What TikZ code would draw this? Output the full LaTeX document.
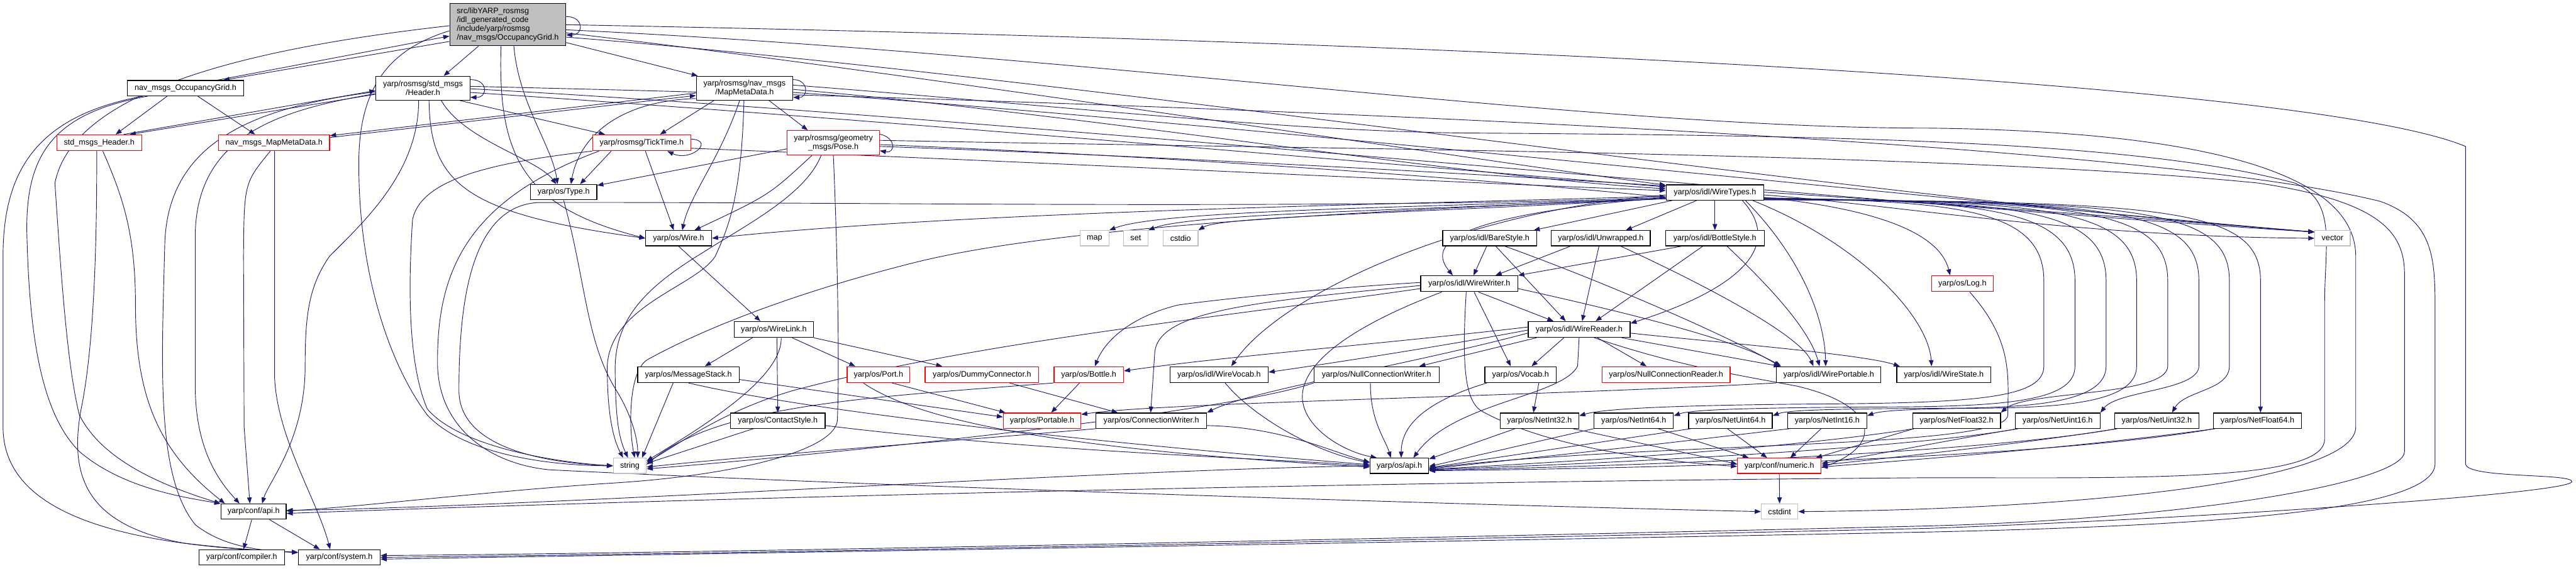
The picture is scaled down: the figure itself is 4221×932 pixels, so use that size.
\documentclass[tikz,border=0pt]{standalone}
\usepackage{fontspec}
\setmainfont{Liberation Sans}
\usetikzlibrary{arrows.meta}
\definecolor{edgec}{HTML}{191970}
\definecolor{grayb}{HTML}{BFBFBF}
\pgfdeclarelayer{bg}
\pgfdeclarelayer{edges}
\pgfsetlayers{bg,edges,main}
\begin{document}
\begin{tikzpicture}[x=1pt,y=-1pt,
  nb/.style={draw=black,line width=1.3pt,fill=white,inner sep=0pt,font=\fontsize{13}{14.5}\selectfont,align=center},
  rb/.style={nb,draw=red},
  gb/.style={nb,draw=grayb},
  e/.style={draw=edgec,line width=0.95pt,-{Triangle[length=10pt,width=7.5pt]}},
  h25/.style={minimum height=25pt},
  h26/.style={minimum height=26pt}]
\useasboundingbox (0,0) rectangle (4221,932);
\begin{pgfonlayer}{bg}\fill[white] (0,0) rectangle (4221,932);\end{pgfonlayer}
% ---------------- nodes
\node[nb,fill=grayb,minimum width=190pt,minimum height=69pt,align=left] (R) at (832,40.5) {src/libYARP\_rosmsg\\/idl\_generated\_code\\/include/yarp/rosmsg\\/nav\_msgs/OccupancyGrid.h};
\node[nb,h25,minimum width=190pt] (NOG) at (304,144.5) {nav\_msgs\_OccupancyGrid.h};
\node[nb,minimum width=154pt,minimum height=39pt] (Hdr) at (693,144.5) {yarp/rosmsg/std\_msgs\\/Header.h};
\node[rb,h26,minimum width=139pt] (StdHdr) at (162.5,234) {std\_msgs\_Header.h};
\node[rb,h26,minimum width=182pt] (NMMD) at (449,234) {nav\_msgs\_MapMetaData.h};
\node[rb,h26,minimum width=161pt] (TT) at (1051.5,234) {yarp/rosmsg/TickTime.h};
\node[nb,h25,minimum width=109pt] (Type) at (923.5,315) {yarp/os/Type.h};
\node[nb,minimum width=158pt,minimum height=39pt] (MMD) at (1220,144.5) {yarp/rosmsg/nav\_msgs\\/MapMetaData.h};
\node[rb,minimum width=151pt,minimum height=40pt] (Pose) at (1365.5,234) {yarp/rosmsg/geometry\\\_msgs/Pose.h};
\node[nb,h25,minimum width=160pt] (WT) at (2810,315.5) {yarp/os/idl/WireTypes.h};
\node[nb,h25,minimum width=108pt] (Wire) at (1112,390.5) {yarp/os/Wire.h};
\node[gb,h25,minimum width=47pt] (map) at (1793.5,390.5) {map};
\node[gb,h25,minimum width=40pt] (set) at (1861,390.5) {set};
\node[gb,h25,minimum width=57pt] (cstdio) at (1934.5,390.5) {cstdio};
\node[nb,h26,minimum width=130pt] (WL) at (1268,540) {yarp/os/WireLink.h};
\node[nb,h26,minimum width=166pt] (MS) at (1128,614) {yarp/os/MessageStack.h};
\node[rb,h26,minimum width=103pt] (Port) at (1439.5,614) {yarp/os/Port.h};
\node[rb,h26,minimum width=186pt] (Dummy) at (1609,614) {yarp/os/DummyConnector.h};
\node[rb,h26,minimum width=114pt] (Bottle) at (1784,614) {yarp/os/Bottle.h};
\node[nb,h26,minimum width=161pt] (WVocab) at (1997.5,614) {yarp/os/idl/WireVocab.h};
\node[nb,h25,minimum width=154pt] (Bare) at (2441,390.5) {yarp/os/idl/BareStyle.h};
\node[nb,h25,minimum width=162pt] (Unw) at (2623,390.5) {yarp/os/idl/Unwrapped.h};
\node[nb,h25,minimum width=162pt] (BStyle) at (2810,390.5) {yarp/os/idl/BottleStyle.h};
\node[nb,h26,minimum width=159pt] (WW) at (2407.5,465) {yarp/os/idl/WireWriter.h};
\node[nb,h26,minimum width=167pt] (WR) at (2587.5,540) {yarp/os/idl/WireReader.h};
\node[nb,h26,minimum width=205pt] (NCW) at (2255.5,614) {yarp/os/NullConnectionWriter.h};
\node[nb,h26,minimum width=117pt] (Vocab) at (2491.5,614) {yarp/os/Vocab.h};
\node[rb,h26,minimum width=210pt] (NCR) at (2730,614) {yarp/os/NullConnectionReader.h};
\node[nb,h26,minimum width=171pt] (WP) at (2996.5,614) {yarp/os/idl/WirePortable.h};
\node[nb,h26,minimum width=154pt] (WS) at (3185,614) {yarp/os/idl/WireState.h};
\node[gb,h25,minimum width=58pt] (vector) at (3822,390.5) {vector};
\node[rb,h26,minimum width=101pt] (Log) at (3215.5,465) {yarp/os/Log.h};
\node[nb,h25,minimum width=107pt] (capi) at (415.5,838.5) {yarp/conf/api.h};
\node[nb,h25,minimum width=140pt] (comp) at (396,913.5) {yarp/conf/compiler.h};
\node[nb,h25,minimum width=134pt] (sys) at (556,913.5) {yarp/conf/system.h};
\node[gb,h25,minimum width=54pt] (string) at (1032,763.5) {string};
\node[nb,h25,minimum width=155pt] (CS) at (1274.5,689.5) {yarp/os/ContactStyle.h};
\node[rb,h25,minimum width=127pt] (Portable) at (1707.5,689.5) {yarp/os/Portable.h};
\node[nb,h25,minimum width=181pt] (CW) at (1886.5,689.5) {yarp/os/ConnectionWriter.h};
\node[nb,h25,minimum width=129pt] (NI32) at (2522.5,689.5) {yarp/os/NetInt32.h};
\node[nb,h25,minimum width=130pt] (NI64) at (2677,689.5) {yarp/os/NetInt64.h};
\node[nb,h25,minimum width=137pt] (NU64) at (2835.5,689.5) {yarp/os/NetUint64.h};
\node[nb,h25,minimum width=130pt] (NI16) at (2994,689.5) {yarp/os/NetInt16.h};
\node[nb,h25,minimum width=144pt] (NF32) at (3206,689.5) {yarp/os/NetFloat32.h};
\node[nb,h25,minimum width=139pt] (NU16) at (3371.5,689.5) {yarp/os/NetUint16.h};
\node[nb,h25,minimum width=138pt] (NU32) at (3534,689.5) {yarp/os/NetUint32.h};
\node[nb,h25,minimum width=144pt] (NF64) at (3699,689.5) {yarp/os/NetFloat64.h};
\node[nb,h25,minimum width=96pt] (osapi) at (2293,763.5) {yarp/os/api.h};
\node[rb,h25,minimum width=137pt] (numeric) at (2915.5,763.5) {yarp/conf/numeric.h};
\node[gb,h25,minimum width=60pt] (cstdint) at (2916,838.5) {cstdint};
% ---------------- edges
\begin{pgfonlayer}{edges}
% root
\draw[e] (R.8) .. controls (957,27) and (957,57) .. (R.-10);
\draw[e] (R.196) -- ([xshift=62pt]NOG.north);
\draw[e] ([xshift=52pt]NOG.north) -- (R.191);
\draw[e] ([xshift=-48pt]R.south) -- ([xshift=34pt]Hdr.north);
\draw[e] (R.-17) -- ([xshift=3pt]MMD.north west);
\draw[e] ([xshift=10pt]R.south) .. controls (850,170) and (905,240) .. ([xshift=-10pt]Type.north);
\draw[e] ([xshift=-11pt]R.south) .. controls (815,260) and (860,340) .. (Wire.west);
\draw[e] (R.186) .. controls (640,80) and (590,140) .. (588,260) .. controls (586,450) and (640,600) .. (700,680) .. controls (760,745) and (900,763) .. (string.west);
\draw[e] (R.181) .. controls (400,80) and (120,150) .. (90,300) .. controls (100,450) and (110,600) .. (130,680) .. controls (170,760) and (280,800) .. (capi.north west);
\draw[e] (R.east) .. controls (2500,70) and (3800,140) .. (4040,240) -- (4040,760) .. controls (4040,785) and (4220,775) .. (4214,790) .. controls (4200,810) and (3600,850) .. (3160,866) .. controls (2000,893) and (1000,910) .. (sys.east);
\draw[e] (R.-5) .. controls (1800,90) and (2600,210) .. (3160,210) .. controls (3600,215) and (3860,280) .. (3860,420) -- (3860,700) .. controls (3860,790) and (3400,835) .. (cstdint.east);
\draw[e] (R.-8) .. controls (1500,120) and (2400,260) .. ([yshift=-1pt]WT.north west);
\draw[e] (R.-12) .. controls (1800,130) and (3000,320) .. ([yshift=-3pt]vector.north west);
% NOG, StdHdr, NMMD
\draw[e] ([xshift=-70pt]NOG.south) .. controls (60,190) and (5,280) .. (5,420) -- (5,700) .. controls (5,860) and (250,895) .. ([yshift=8pt]sys.west);
\draw[e] ([xshift=-62pt]NOG.south) .. controls (90,185) and (42,250) .. (44,380) .. controls (48,560) and (70,680) .. (130,740) .. controls (200,800) and (300,815) .. (capi.north west);
\draw[e] ([xshift=-30pt]NOG.south) -- ([xshift=27pt]StdHdr.north);
\draw[e] ([xshift=20pt]NOG.south) -- ([xshift=-31pt]NMMD.north);
\draw[e] ([xshift=-4pt]StdHdr.south) .. controls (159,450) and (150,580) .. (135,660) .. controls (110,780) and (140,860) .. (300,890) .. controls (380,900) and (450,903) .. ([yshift=8pt]sys.west);
\draw[e] ([xshift=6pt]StdHdr.south) .. controls (200,320) and (222,380) .. (222,500) .. controls (222,650) and (260,740) .. ([xshift=-47pt]capi.north);
\draw[e] ([xshift=40pt]StdHdr.north) -- ([yshift=-4pt]Hdr.west);
\draw[e] ([yshift=-10pt]Hdr.west) -- ([xshift=50pt]StdHdr.north);
\draw[e] ([yshift=-8pt]MMD.west) -- ([yshift=-2pt]NMMD.north east);
\draw[e] ([yshift=-5pt]NMMD.north east) -- ([yshift=-12pt]MMD.west);
\draw[e] ([xshift=-6pt]NMMD.south) .. controls (400,300) .. (399,420) -- (400,700) -- ([xshift=-6pt]capi.north);
\draw[e] ([xshift=1pt]NMMD.south) -- (450,620) .. controls (455,720) and (520,820) .. ([xshift=-15pt]sys.north);
\draw[e] ([xshift=-3pt]capi.south) -- ([xshift=3pt]comp.north);
\draw[e] ([xshift=26pt]capi.south) -- ([xshift=-32pt]sys.north);
% Header
\draw[e] ([yshift=14pt]Hdr.east) .. controls (800,130) and (800,160) .. ([yshift=-15pt]Hdr.east);
\draw[e] ([yshift=-6pt]Hdr.west) .. controls (420,175) and (275,230) .. (270,400) .. controls (265,600) and (255,780) .. (320,860) .. controls (370,900) and (440,903) .. ([yshift=8pt]sys.west);
\draw[e] ([yshift=-9pt]Hdr.west) .. controls (460,180) and (325,220) .. (320,380) -- (320,640) .. controls (322,740) and (360,790) .. ([xshift=-23pt]capi.north);
\draw[e] ([xshift=-7pt]Hdr.south) .. controls (686,280) and (600,360) .. (540,420) .. controls (505,470) and (500,520) .. (500,600) .. controls (500,720) and (440,790) .. ([xshift=14pt]capi.north);
\draw[e] ([xshift=10pt]Hdr.south) .. controls (705,300) and (760,350) .. (Wire.west);
\draw[e] ([xshift=30pt]Hdr.south) .. controls (760,230) and (880,260) .. ([xshift=-12pt]Type.north);
\draw[e] ([xshift=60pt]Hdr.south) -- ([xshift=-60pt]TT.north);
\draw[e] ([yshift=-7pt]Hdr.east) .. controls (1500,200) and (2400,280) .. ([yshift=-4pt]WT.north west);
\draw[e] ([yshift=-1pt]Hdr.east) .. controls (1600,190) and (3000,330) .. ([yshift=-3pt]vector.north west);
\draw[e] ([yshift=3pt]Hdr.east) .. controls (2000,170) and (3500,230) .. (3900,330) .. controls (3985,360) and (3990,420) .. (3990,500) -- (3990,760) .. controls (3990,840) and (3600,862) .. (3160,872) .. controls (2000,895) and (1000,910) .. ([yshift=-3pt]sys.east);
% MapMetaData
\draw[e] ([yshift=14pt]MMD.east) .. controls (1325,130) and (1325,160) .. ([yshift=-15pt]MMD.east);
\draw[e] ([xshift=-50pt]MMD.south) -- ([xshift=30pt]TT.north);
\draw[e] ([xshift=40pt]MMD.south) -- ([xshift=-42pt]Pose.north);
\draw[e] ([xshift=-8pt]MMD.south) .. controls (1180,260) and (1130,320) .. ([xshift=6pt]Wire.north);
\draw[e] ([xshift=-1pt]MMD.south) .. controls (1215,330) and (1190,380) .. (1172,420) .. controls (1140,470) and (1000,500) .. (995,600) .. controls (995,680) and (1005,720) .. ([xshift=-11pt]string.north);
\draw[e] ([yshift=-17pt]MMD.west) .. controls (1020,165) and (950,220) .. ([xshift=12pt]Type.north);
\draw[e] ([yshift=-2pt]MMD.east) .. controls (1800,190) and (2400,290) .. ([yshift=-7pt]WT.north west);
\draw[e] ([yshift=-7pt]MMD.east) .. controls (2000,200) and (3200,330) .. ([yshift=-3pt]vector.north west);
\draw[e] ([yshift=5pt]MMD.east) .. controls (1700,170) and (2100,215) .. (2400,218) .. controls (3000,222) and (3500,230) .. (3760,300) .. controls (3830,330) and (3809,400) .. (3809,500) -- (3809,720) .. controls (3809,790) and (3500,783) .. (3160,783) .. controls (2200,790) and (1200,815) .. ([yshift=-3pt]capi.east);
% TickTime
\draw[e] ([yshift=6pt]TT.east) .. controls (1172,230) and (1132,266) .. ([xshift=42pt]TT.south);
\draw[e] ([xshift=-50pt]TT.south) -- ([xshift=27pt]Type.north);
\draw[e] ([xshift=6pt]TT.south) -- ([xshift=-8pt]Wire.north);
\draw[e] (TT.south west) .. controls (820,265) and (690,290) .. (676,360) .. controls (668,480) and (670,600) .. (700,670) .. controls (750,730) and (900,757) .. (string.west);
\draw[e] ([xshift=-70pt]TT.south) .. controls (760,330) and (715,450) .. (717,600) .. controls (720,700) and (800,760) .. (900,770) .. controls (1500,800) and (2500,830) .. (cstdint.west);
\draw[e] ([yshift=-9pt]TT.east) .. controls (1800,270) and (2400,300) .. ([yshift=-10pt]WT.north west);
% Pose
\draw[e] ([yshift=14pt]Pose.east) .. controls (1468,225) and (1468,252) .. ([yshift=-13pt]Pose.east);
\draw[e] ([yshift=-10pt]Pose.west) -- ([yshift=-2pt]Type.north east);
\draw[e] ([xshift=-35pt]Pose.south) .. controls (1260,320) .. ([xshift=26pt]Wire.north);
\draw[e] ([xshift=-20pt]Pose.south) .. controls (1320,320) and (1220,370) .. (1150,415) .. controls (1060,470) and (1010,520) .. (1008,600) .. controls (1008,690) and (1015,720) .. ([xshift=-3pt]string.north);
\draw[e] (Pose.south) .. controls (1372,400) and (1376,600) .. (1372,690) .. controls (1365,740) and (1200,780) .. (1000,792) .. controls (800,805) and (600,830) .. ([yshift=1pt]capi.east);
\draw[e] ([yshift=-3pt]Pose.east) .. controls (2000,260) and (2500,300) .. ([yshift=-8pt]WT.west);
\draw[e] ([yshift=-6pt]Pose.east) .. controls (2300,270) and (3300,340) .. ([yshift=-3pt]vector.north west);
\draw[e] ([yshift=4pt]Pose.east) .. controls (2200,245) and (3200,250) .. (3700,300) .. controls (3900,330) and (3940,380) .. (3940,450) -- (3940,740) .. controls (3940,790) and (3600,850) .. (3160,862) .. controls (2000,890) and (1000,908) .. ([yshift=3pt]sys.east);
% Type
\draw[e] (Type.south) .. controls (960,460) and (960,560) .. (1010,640) .. controls (1035,680) and (1045,720) .. ([xshift=13pt]string.north);
% WireTypes
\draw[e] ([yshift=-6pt]WT.west) .. controls (2300,335) and (1600,345) .. (Wire.east);
\draw[e] ([yshift=-8pt]WT.west) .. controls (2200,345) and (1300,330) .. (880,332) .. controls (770,340) and (752,500) .. (752,640) .. controls (752,730) and (880,758) .. (string.west);
\draw[e] ([yshift=-10pt]WT.west) .. controls (2100,350) and (1700,380) .. (1500,430) .. controls (1300,480) and (1150,540) .. (1060,590) .. controls (1030,610) and (1030,700) .. ([xshift=8pt]string.north);
\draw[e] ([yshift=-10pt]WT.west) .. controls (2300,340) and (1900,345) .. (map.north east);
\draw[e] ([yshift=-10pt]WT.west) .. controls (2300,345) and (1950,350) .. (set.north east);
\draw[e] ([yshift=-10pt]WT.west) .. controls (2300,350) and (2000,355) .. (cstdio.north east);
\draw[e] ([yshift=-4pt]WT.east) .. controls (3100,335) and (3400,388) .. (vector.west);
\draw[e] ([xshift=-70pt]WT.south) -- ([xshift=72pt]Bare.north);
\draw[e] ([xshift=-30pt]WT.south) -- ([xshift=41pt]Unw.north);
\draw[e] (WT.south) -- (BStyle.north);
\draw[e] ([yshift=-8pt]WT.west) .. controls (2420,350) and (2330,390) .. ([xshift=-27pt]WW.north);
\draw[e] ([xshift=45pt]WT.south) .. controls (2920,400) and (2860,470) .. ([yshift=10pt]WR.east);
\draw[e] ([xshift=50pt]WT.south) .. controls (2950,420) and (2990,520) .. ([xshift=-5pt]WP.north);
\draw[e] ([xshift=62pt]WT.south) .. controls (3050,400) and (3160,520) .. ([xshift=-20pt]WS.north);
\draw[e] ([yshift=-8pt]WT.east) .. controls (3100,345) and (3180,390) .. ([xshift=-20pt]Log.north);
\draw[e] ([yshift=-4pt]WT.west) .. controls (2400,345) and (2100,480) .. ([xshift=20pt]WVocab.north);
% WireTypes -> Net*
\draw[e] ([yshift=-9pt]WT.east) .. controls (3200,330) and (3349,340) .. (3349,460) -- (3349,600) .. controls (3349,650) and (3250,660) .. (3000,662) .. controls (2700,664) and (2620,672) .. ([yshift=8pt]NI32.east);
\draw[e] ([yshift=-9pt]WT.east) .. controls (3250,330) and (3400,340) .. (3400,460) -- (3400,600) .. controls (3400,655) and (3300,666) .. (3100,667) .. controls (2850,668) and (2770,672) .. ([yshift=8pt]NI64.east);
\draw[e] ([yshift=-10pt]WT.east) .. controls (3300,330) and (3451,340) .. (3451,460) -- (3451,600) .. controls (3451,655) and (3350,668) .. (3200,669) .. controls (3000,670) and (2930,672) .. ([yshift=8pt]NU64.east);
\draw[e] ([yshift=-10pt]WT.east) .. controls (3350,330) and (3501,340) .. (3501,460) -- (3501,600) .. controls (3501,655) and (3400,668) .. (3250,669) .. controls (3150,670) and (3085,672) .. ([yshift=8pt]NI16.east);
\draw[e] ([yshift=-11pt]WT.east) .. controls (3400,330) and (3552,340) .. (3552,460) -- (3552,600) .. controls (3552,650) and (3320,640) .. (NF32.north east);
\draw[e] ([yshift=-11pt]WT.east) .. controls (3450,330) and (3603,340) .. (3603,460) -- (3603,600) .. controls (3603,640) and (3470,640) .. (NU16.north east);
\draw[e] ([yshift=-12pt]WT.east) .. controls (3500,330) and (3653,340) .. (3653,460) -- (3653,600) .. controls (3653,640) and (3580,640) .. ([xshift=25pt]NU32.north);
\draw[e] ([yshift=-12pt]WT.east) .. controls (3550,330) and (3704,340) .. (3704,460) -- ([xshift=5pt]NF64.north);
% styles
\draw[e] ([xshift=-5pt]Bare.south) -- ([xshift=7pt]WW.north);
\draw[e] ([xshift=10pt]Bare.south) -- ([xshift=-22pt]WR.north);
\draw[e] ([xshift=25pt]Bare.south) .. controls (2650,470) and (2850,560) .. ([xshift=-80pt]WP.north);
\draw[e] ([xshift=-50pt]Unw.south) -- ([xshift=43pt]WW.north);
\draw[e] ([xshift=-3pt]Unw.south) -- ([xshift=5pt]WR.north);
\draw[e] ([xshift=33pt]Unw.south) .. controls (2800,470) and (2950,550) .. ([xshift=-25pt]WP.north);
\draw[e] ([xshift=-55pt]BStyle.south) -- (WW.north east);
\draw[e] ([xshift=-20pt]BStyle.south) -- ([xshift=27pt]WR.north);
\draw[e] ([xshift=20pt]BStyle.south) .. controls (2900,470) and (2965,540) .. ([xshift=-15pt]WP.north);
% WireWriter
\draw[e] ([xshift=15pt]WW.south) -- ([xshift=-42pt]WR.north);
\draw[e] ([xshift=8pt]WW.south) -- ([xshift=-16pt]Vocab.north);
\draw[e] ([yshift=-8pt]WW.east) .. controls (2700,520) and (2850,560) .. ([xshift=-78pt]WP.north);
\draw[e] ([xshift=-45pt]WW.south) .. controls (2200,540) and (2134,600) .. (2134,650) .. controls (2134,700) and (2200,740) .. ([xshift=-37pt]osapi.north);
\draw[e] ([xshift=-5pt]WW.south) .. controls (2395,600) and (2400,660) .. (2430,675) .. controls (2550,740) and (2750,758) .. ([yshift=-1pt]numeric.west);
\draw[e] ([yshift=2pt]WW.west) .. controls (2200,470) and (2000,490) .. (1930,500) .. controls (1850,520) and (1810,560) .. ([xshift=10pt]Bottle.north);
\draw[e] ([yshift=-3pt]WW.west) .. controls (2050,495) and (1895,510) .. (1892,580) -- ([xshift=-1pt]CW.north);
\draw[e] ([yshift=-8pt]WW.west) .. controls (2000,520) and (1600,560) .. (1300,640) .. controls (1180,675) and (1110,730) .. ([yshift=6pt]string.east);
% WireReader
\draw[e] ([xshift=-70pt]WR.south) -- ([xshift=70pt]NCW.north);
\draw[e] ([xshift=-25pt]WR.south) -- ([xshift=18pt]Vocab.north);
\draw[e] ([xshift=30pt]WR.south) -- ([xshift=-32pt]NCR.north);
\draw[e] ([xshift=70pt]WR.south) -- ([xshift=-80pt]WP.north);
\draw[e] ([yshift=-6pt]WR.east) .. controls (2800,560) and (3050,580) .. ([xshift=-72pt]WS.north);
\draw[e] (WR.south) -- (2585,600) .. controls (2560,650) and (2380,660) .. ([xshift=23pt]osapi.north);
\draw[e] ([xshift=25pt]WR.south) .. controls (2750,600) and (2850,615) .. (2945,633) .. controls (3080,665) and (3085,730) .. ([yshift=-3pt]numeric.east);
\draw[e] ([yshift=4pt]WR.west) .. controls (2300,560) and (2000,585) .. ([yshift=6pt]Bottle.east);
\draw[e] ([yshift=-1pt]WR.west) .. controls (2350,570) and (2150,600) .. ([yshift=4pt]WVocab.east);
\draw[e] ([yshift=-6pt]WR.west) .. controls (2300,600) and (2050,640) .. (CW.north east);
% Wire / WireLink
\draw[e] (Wire.south) -- ([xshift=-22pt]WL.north);
\draw[e] ([xshift=-35pt]WL.south) -- ([xshift=27pt]MS.north);
\draw[e] ([xshift=30pt]WL.south) -- ([xshift=-38pt]Port.north);
\draw[e] (WL.south east) -- ([xshift=-65pt]Dummy.north);
\draw[e] ([xshift=5pt]WL.south) -- (CS.north);
\draw[e] ([xshift=12pt]WL.south) .. controls (1282,620) and (1150,700) .. ([yshift=8pt]string.east);
\draw[e] ([xshift=-25pt]MS.south) -- ([xshift=20pt]string.north);
\draw[e] ([yshift=-8pt]MS.east) -- ([yshift=6pt]Portable.west);
\draw[e] (MS.south) .. controls (1350,680) and (1900,735) .. ([yshift=2pt]osapi.west);
\draw[e] ([xshift=-40pt]CS.south) -- ([yshift=4pt]string.east);
\draw[e] ([yshift=-8pt]CS.east) .. controls (1700,740) and (2050,750) .. (osapi.west);
\draw[e] ([xshift=22pt]Port.south) -- ([xshift=-60pt]Portable.north);
\draw[e] ([xshift=-25pt]Port.south) .. controls (1520,700) and (1800,740) .. ([yshift=-2pt]osapi.west);
\draw[e] ([xshift=45pt]Dummy.south) -- ([xshift=-55pt]CW.north);
\draw[e] ([xshift=-15pt]Bottle.south) -- ([xshift=15pt]Portable.north);
\draw[e] (Bottle.south west) .. controls (1450,650) and (1180,660) .. ([yshift=2pt]string.east);
\draw[e] ([xshift=10pt]WVocab.south) .. controls (2050,680) and (2150,740) .. ([yshift=5pt]osapi.west);
\draw[e] ([yshift=-8pt]CW.east) .. controls (2100,700) and (2180,740) .. ([yshift=6pt]osapi.west);
\draw[e] (CW.south west) .. controls (1600,720) and (1250,745) .. ([yshift=-2pt]string.east);
\draw[e] (WP.south west) .. controls (2500,650) and (1900,660) .. ([yshift=-3pt]Portable.north east);
\draw[e] (NCW.south west) .. controls (2000,680) and (1300,750) .. ([yshift=-5pt]string.east);
\draw[e] ([xshift=-10pt]NCW.south) .. controls (2245,690) and (2270,720) .. ([xshift=-14pt]osapi.north);
\draw[e] ([xshift=30pt]Vocab.south) -- ([xshift=-10pt]NI32.north);
\draw[e] ([xshift=-55pt]Vocab.south) .. controls (2330,660) and (2296,700) .. ([xshift=3pt]osapi.north);
% Log
\draw[e] ([xshift=12pt]Log.south) .. controls (3300,560) and (3290,620) .. (3290,680) .. controls (3290,720) and (3000,725) .. (2700,740) .. controls (2500,750) and (2400,760) .. ([yshift=-4pt]osapi.east);
% Net* -> api / numeric
\draw[e] ([xshift=-40pt]NI32.south) -- ([yshift=-2pt]osapi.north east);
\draw[e] ([xshift=55pt]NI32.south) -- ([yshift=3pt]numeric.west);
\draw[e] (NI64.south west) -- ([yshift=-1pt]osapi.east);
\draw[e] ([xshift=40pt]NI64.south) -- ([xshift=-50pt]numeric.north);
\draw[e] ([xshift=-65pt]NU64.south) -- ([yshift=-3pt]osapi.east);
\draw[e] ([xshift=-5pt]NU64.south) -- ([xshift=-20pt]numeric.north);
\draw[e] ([xshift=-62pt]NI16.south) .. controls (2700,730) .. ([yshift=-5pt]osapi.east);
\draw[e] ([xshift=-10pt]NI16.south) -- ([xshift=18pt]numeric.north);
\draw[e] ([xshift=-70pt]NF32.south) -- ([xshift=60pt]numeric.north);
\draw[e] ([xshift=-70pt]NF32.south) .. controls (2900,740) and (2500,760) .. ([yshift=-6pt]osapi.east);
\draw[e] ([xshift=-65pt]NU16.south) .. controls (3200,720) and (3050,750) .. ([yshift=4pt]numeric.east);
\draw[e] ([xshift=-65pt]NU16.south) .. controls (3100,740) and (2500,765) .. ([yshift=-6pt]osapi.east);
\draw[e] ([xshift=-65pt]NU32.south) .. controls (3300,730) and (3050,755) .. ([yshift=1pt]numeric.east);
\draw[e] ([xshift=-65pt]NU32.south) .. controls (3200,750) and (2500,768) .. ([yshift=-7pt]osapi.east);
\draw[e] ([xshift=-70pt]NF64.south) .. controls (3400,735) and (3050,760) .. ([yshift=-2pt]numeric.east);
\draw[e] ([xshift=-70pt]NF64.south) .. controls (3300,760) and (2500,770) .. ([yshift=-8pt]osapi.east);
\draw[e] (numeric.south) -- (cstdint.north);
\draw[e] (osapi.west) .. controls (1800,770) and (900,830) .. ([yshift=2pt]capi.east);
\end{pgfonlayer}
\end{tikzpicture}
\end{document}
